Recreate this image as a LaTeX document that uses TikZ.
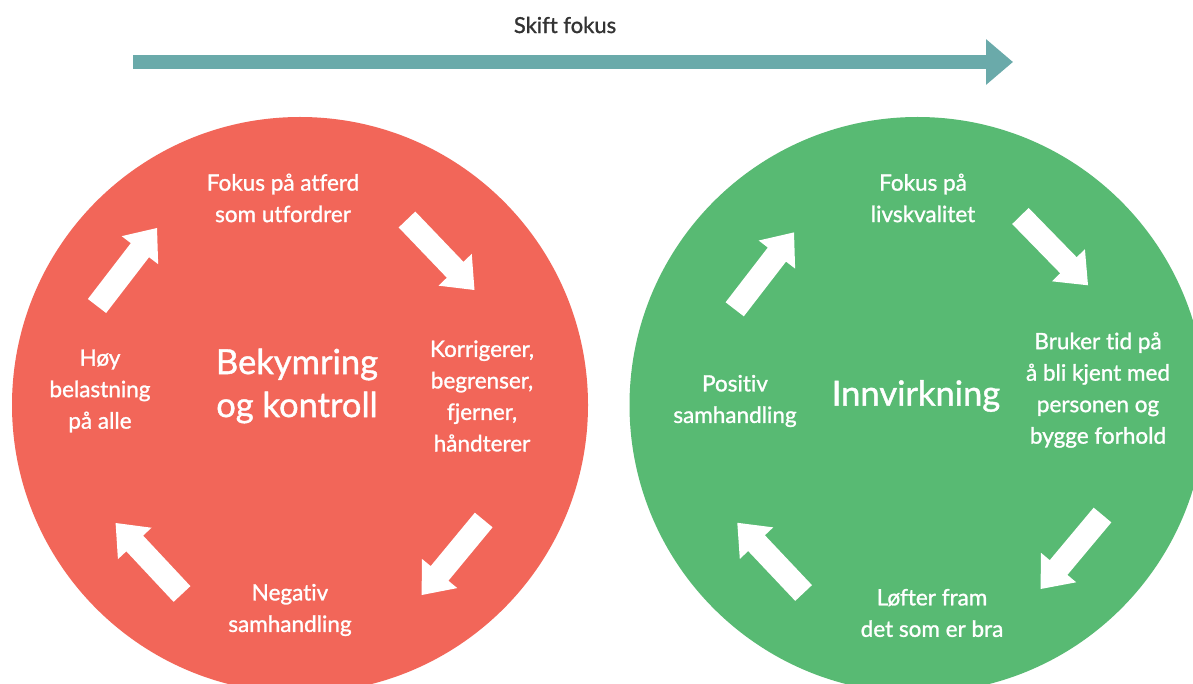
\documentclass[tikz,border=0pt]{standalone}
\usepackage{fontspec}
\setmainfont{Lato}[Ligatures=NoCommon]
\newfontfamily\labfont{Lato}[Ligatures=NoCommon,FakeBold=1.2]
\usetikzlibrary{calc,arrows.meta}
\definecolor{cred}{HTML}{F26659}
\definecolor{cgreen}{HTML}{58BA73}
\definecolor{cteal}{HTML}{6AAAAA}
\definecolor{ctext}{HTML}{333333}
\tikzset{
  lbl/.style={text=white, align=center, font=\labfont\fontsize{22.5}{31.5}\selectfont, inner sep=0pt},
  big/.style={text=white, align=center, font=\labfont\fontsize{34.5}{43}\selectfont, inner sep=0pt},
  toparrow/.style={draw=cteal, line width=14pt, -{Triangle[length=27pt,width=44pt]}},
}
\newcommand\blockarrow[2]{%
  \coordinate (hb) at ($(#2)!28pt!(#1)$);
  \fill[white] ($(#1)!11.5pt!90:(#2)$) -- ($(hb)!11.5pt!-90:(#1)$) -- ($(hb)!23pt!-90:(#1)$) -- (#2)
    -- ($(hb)!23pt!90:(#1)$) -- ($(hb)!11.5pt!90:(#1)$) -- ($(#1)!11.5pt!-90:(#2)$) -- cycle;
}
\begin{document}
\begin{tikzpicture}[x=1pt,y=-1pt]
\clip (0,0) rectangle (1193,684);
\fill[white] (0,0) rectangle (1193,684);
% top arrow
\node[text=ctext, font=\labfont\fontsize{22}{26}\selectfont] (skift) at (565,25) {Skift fokus};
\coordinate (fs) at (133,62);
\coordinate (fe) at (1013,62);
\draw[toparrow] (fs) -- (fe);
% circles
\fill[cred] (300,405) circle[radius=288];
\fill[cgreen] (917.5,405) circle[radius=288];
% red texts
\node[big] (rc) at (297,386) {Bekymring\\og kontroll};
\node[lbl] (r1) at (283,198) {Fokus på atferd\\som utfordrer};
\node[lbl] (r2) at (482,396) {Korrigerer,\\begrenser,\\fjerner,\\håndterer};
\node[lbl] (r3) at (290,610) {Negativ\\samhandling};
\node[lbl] (r4) at (100,391) {Høy\\belastning\\på alle};
% green texts
\node[big] (gc) at (916,396) {Innvirkning};
\node[lbl] (g1) at (923,198) {Fokus på\\livskvalitet};
\node[lbl] (g2) at (1098,390) {Bruker tid på\\å bli kjent med\\personen og\\bygge forhold};
\node[lbl] (g3) at (932,613) {Løfter fram\\det som er bra};
\node[lbl] (g4) at (735,401) {Positiv\\samhandling};
% red arrows
\coordinate (ra1t) at (97,306);   \coordinate (ra1p) at (157,228);
\coordinate (ra2t) at (407,219.5); \coordinate (ra2p) at (474.5,290);
\coordinate (ra3t) at (483.7,520); \coordinate (ra3p) at (421.7,595);
\coordinate (ra4t) at (182,594);  \coordinate (ra4p) at (115.6,523);
\blockarrow{ra1t}{ra1p}
\blockarrow{ra2t}{ra2p}
\blockarrow{ra3t}{ra3p}
\blockarrow{ra4t}{ra4p}
% green arrows
\coordinate (ga1t) at (734.7,309.3); \coordinate (ga1p) at (794,232.4);
\coordinate (ga2t) at (1020.4,216);  \coordinate (ga2p) at (1088,285.3);
\coordinate (ga3t) at (1102.5,515);  \coordinate (ga3p) at (1040.6,589);
\coordinate (ga4t) at (803.6,593);   \coordinate (ga4p) at (737.3,522.8);
\blockarrow{ga1t}{ga1p}
\blockarrow{ga2t}{ga2p}
\blockarrow{ga3t}{ga3p}
\blockarrow{ga4t}{ga4p}
\end{tikzpicture}
\end{document}
